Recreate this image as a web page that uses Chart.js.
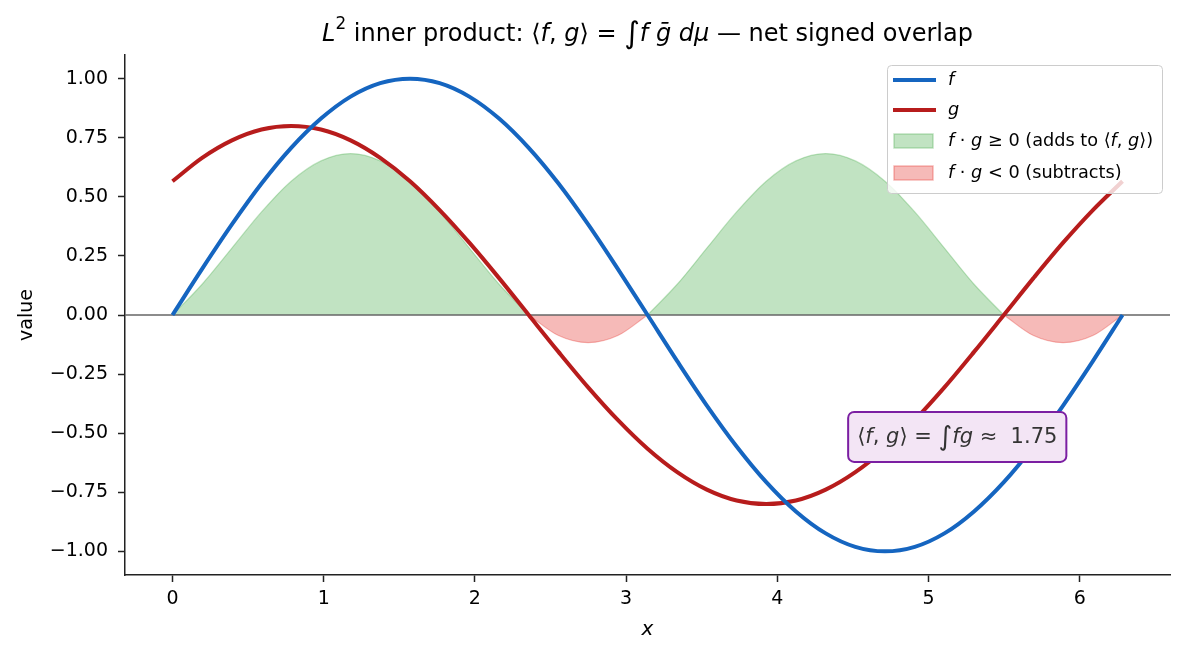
<!DOCTYPE html>
<html>
<head>
<meta charset="utf-8">
<script src="https://cdn.jsdelivr.net/npm/chart.js@4.4.1/dist/chart.umd.min.js"></script>
<style>
  html, body { margin: 0; padding: 0; background: #fff; }
  #wrap { width: 1186px; height: 657px; }
</style>
</head>
<body>
<div id="wrap"><canvas id="chart" width="1186" height="657"></canvas></div>
<script>
// sample points
const xValues = [0, 0.196, 0.393, 0.589, 0.785, 0.982, 1.178, 1.374, 1.571, 1.767, 1.963,
  2.160, 2.356, 2.553, 2.749, 2.945, 3.142, 3.338, 3.534, 3.731, 3.927, 4.123, 4.320,
  4.516, 4.712, 4.909, 5.105, 5.301, 5.498, 5.694, 5.890, 6.087, 6.283];
const fValues = [0, 0.195, 0.383, 0.556, 0.707, 0.831, 0.924, 0.981, 1.000, 0.981, 0.924,
  0.831, 0.707, 0.556, 0.383, 0.195, 0, -0.195, -0.383, -0.556, -0.707, -0.831, -0.924,
  -0.981, -1.000, -0.981, -0.924, -0.831, -0.707, -0.556, -0.383, -0.195, 0];
const gValues = [0.566, 0.665, 0.739, 0.785, 0.800, 0.785, 0.739, 0.665, 0.566, 0.444, 0.306,
  0.156, 0, -0.156, -0.306, -0.444, -0.566, -0.665, -0.739, -0.785, -0.800, -0.785, -0.739,
  -0.665, -0.566, -0.444, -0.306, -0.156, 0, 0.156, 0.306, 0.444, 0.566];
// f*g split into its positive and negative parts (null = other part)
const overlapPos = [0, 0.130, 0.283, 0.436, 0.566, 0.652, 0.683, 0.652, 0.566, 0.436, 0.283,
  0.130, 0, null, null, null, 0, 0.130, 0.283, 0.436, 0.566, 0.652, 0.683, 0.652, 0.566, 0.436,
  0.283, 0.130, 0, null, null, null, 0];
const overlapNeg = [null, null, null, null, null, null, null, null, null, null, null, null,
  0, -0.087, -0.117, -0.087, 0, null, null, null, null, null, null, null, null, null, null,
  null, 0, -0.087, -0.117, -0.087, 0];
const xTicks = [0, 1, 2, 3, 4, 5, 6];
const yTicks = [-1, -0.75, -0.5, -0.25, 0, 0.25, 0.5, 0.75, 1];
const innerProduct = 1.75;

const FONT = '"DejaVu Sans", sans-serif';

// text pieces: t = text, i = italic, s = size factor, up = raise (em)
const titleSegs = [
  { t: 'L', i: true }, { t: '2', s: 0.7, up: 0.45 }, { t: ' inner product: \u27E8' },
  { t: 'f', i: true }, { t: ', ' }, { t: 'g', i: true }, { t: '\u27E9 = ' },
  { t: '\u222B', s: 1.25 }, { t: 'f', i: true }, { t: ' ' }, { t: 'g\u0304', i: true },
  { t: ' ' }, { t: 'd\u03BC', i: true }, { t: ' \u2014 net signed overlap' }
];
const legendSegs = [
  [{ t: 'f', i: true }],
  [{ t: 'g', i: true }],
  [{ t: 'f', i: true }, { t: ' \u00B7 ' }, { t: 'g', i: true }, { t: ' \u2265 0 (adds to \u27E8' },
   { t: 'f', i: true }, { t: ', ' }, { t: 'g', i: true }, { t: '\u27E9)' }],
  [{ t: 'f', i: true }, { t: ' \u00B7 ' }, { t: 'g', i: true }, { t: ' < 0 (subtracts)' }]
];
const noteSegs = [
  { t: '\u27E8' }, { t: 'f', i: true }, { t: ', ' }, { t: 'g', i: true }, { t: '\u27E9 = ' },
  { t: '\u222B', s: 1.25 }, { t: 'fg', i: true }, { t: ' \u2248  ' + innerProduct.toFixed(2) }
];

function segFont(seg, size) {
  return (seg.i ? 'italic ' : '') + (size * (seg.s || 1)).toFixed(1) + 'px ' + FONT;
}
function richWidth(ctx, segs, size) {
  let w = 0;
  segs.forEach(seg => { ctx.font = segFont(seg, size); w += ctx.measureText(seg.t).width; });
  return w;
}
function drawRich(ctx, segs, x, y, size, color) {
  ctx.save();
  ctx.fillStyle = color;
  ctx.textAlign = 'left';
  ctx.textBaseline = 'middle';
  segs.forEach(seg => {
    ctx.font = segFont(seg, size);
    ctx.fillText(seg.t, x, y - (seg.up || 0) * size);
    x += ctx.measureText(seg.t).width;
  });
  ctx.restore();
}

function pts(ys) {
  return xValues.map((x, k) => ({ x: x, y: ys[k] }));
}

const decorPlugin = {
  id: 'decor',
  beforeDatasetDraw(chart, args) {
    // zero line sits above the fills, under the curves
    if (args.index !== 1) return;
    const ctx = chart.ctx, a = chart.chartArea;
    const y0 = chart.scales.y.getPixelForValue(0);
    ctx.save();
    ctx.strokeStyle = '#666';
    ctx.lineWidth = 1.5;
    ctx.beginPath();
    ctx.moveTo(a.left, y0);
    ctx.lineTo(a.right, y0);
    ctx.stroke();
    ctx.restore();
  },
  afterDraw(chart) {
    const ctx = chart.ctx, a = chart.chartArea;
    const xs = chart.scales.x, ys = chart.scales.y;

    // title
    const tw = richWidth(ctx, titleSegs, 24);
    drawRich(ctx, titleSegs, (a.left + a.right) / 2 - tw / 2, 35, 24, '#000');

    // axis titles
    ctx.save();
    ctx.fillStyle = '#000';
    ctx.textAlign = 'center';
    ctx.textBaseline = 'middle';
    ctx.font = 'italic 20px ' + FONT;
    ctx.fillText('x', (a.left + a.right) / 2, 630);
    ctx.translate(27, (a.top + a.bottom) / 2);
    ctx.rotate(-Math.PI / 2);
    ctx.font = '19px ' + FONT;
    ctx.fillText('value', 0, 0);
    ctx.restore();

    // legend
    const lx = 887, ly = 65, lw = 275, lh = 128;
    ctx.save();
    ctx.fillStyle = 'rgba(255,255,255,0.8)';
    ctx.strokeStyle = '#cccccc';
    ctx.lineWidth = 1;
    ctx.beginPath();
    ctx.roundRect(lx + 0.5, ly + 0.5, lw, lh, 4);
    ctx.fill();
    ctx.stroke();
    const rows = [80, 110, 141, 173];
    chart.data.datasets.forEach((ds, k) => {
      const ry = rows[k];
      if (k < 2) {
        ctx.strokeStyle = ds.borderColor;
        ctx.lineWidth = 4;
        ctx.beginPath();
        ctx.moveTo(893, ry);
        ctx.lineTo(936, ry);
        ctx.stroke();
      } else {
        ctx.fillStyle = ds.backgroundColor;
        ctx.strokeStyle = ds.borderColor;
        ctx.lineWidth = 1.5;
        ctx.fillRect(894, ry - 7, 39, 14);
        ctx.strokeRect(894, ry - 7, 39, 14);
      }
      drawRich(ctx, legendSegs[k], 948, ry, 17.7, '#000');
    });
    ctx.restore();

    // value box
    const nw = richWidth(ctx, noteSegs, 21);
    const cx = xs.getPixelForValue(5.19), cy = ys.getPixelForValue(-0.52);
    ctx.save();
    ctx.fillStyle = '#f3e5f5';
    ctx.strokeStyle = '#7b1fa2';
    ctx.lineWidth = 2;
    ctx.beginPath();
    ctx.roundRect(cx - nw / 2 - 9, cy - 26, nw + 18, 50, 6);
    ctx.fill();
    ctx.stroke();
    ctx.restore();
    drawRich(ctx, noteSegs, cx - nw / 2, cy, 21, '#333');
  }
};

const ctx = document.getElementById('chart').getContext('2d');
const chart = new Chart(ctx, {
  type: 'line',
  data: {
    datasets: [
      { label: 'f', data: pts(fValues), borderColor: '#1565c0', borderWidth: 4, fill: false },
      { label: 'g', data: pts(gValues), borderColor: '#b71c1c', borderWidth: 4, fill: false },
      { label: 'f·g ≥ 0', data: pts(overlapPos), borderColor: 'rgba(76,175,80,0.35)',
        backgroundColor: 'rgba(76,175,80,0.35)', borderWidth: 1.2, fill: 'origin' },
      { label: 'f·g < 0', data: pts(overlapNeg), borderColor: 'rgba(229,57,53,0.35)',
        backgroundColor: 'rgba(229,57,53,0.35)', borderWidth: 1.2, fill: 'origin' }
    ]
  },
  options: {
    responsive: false,
    animation: false,
    devicePixelRatio: 1,
    spanGaps: false,
    layout: { padding: { left: 0, right: 16, top: 55, bottom: 0 } },
    elements: {
      point: { radius: 0 },
      line: { cubicInterpolationMode: 'monotone' }
    },
    plugins: {
      legend: { display: false },
      title: { display: false },
      tooltip: { enabled: false }
    },
    scales: {
      x: {
        type: 'linear',
        min: -0.314,
        max: 6.597,
        afterBuildTicks: s => { s.ticks = xTicks.map(v => ({ value: v })); },
        afterFit: s => { s.height = 82; },
        ticks: { color: '#000', font: { family: FONT, size: 19 }, padding: 6, maxRotation: 0 },
        grid: { drawOnChartArea: false, tickLength: 7, tickColor: '#222', tickWidth: 1.5 },
        border: { color: '#222', width: 1.5 }
      },
      y: {
        min: -1.1,
        max: 1.1,
        afterBuildTicks: s => { s.ticks = yTicks.map(v => ({ value: v })); },
        afterFit: s => { s.width = 125; },
        ticks: {
          color: '#000', font: { family: FONT, size: 19 }, padding: 10,
          callback: v => (v < 0 ? '\u2212' : '') + Math.abs(v).toFixed(2)
        },
        grid: { drawOnChartArea: false, tickLength: 7, tickColor: '#222', tickWidth: 1.5 },
        border: { color: '#222', width: 1.5 }
      }
    }
  },
  plugins: [decorPlugin]
});
</script>
</body>
</html>
